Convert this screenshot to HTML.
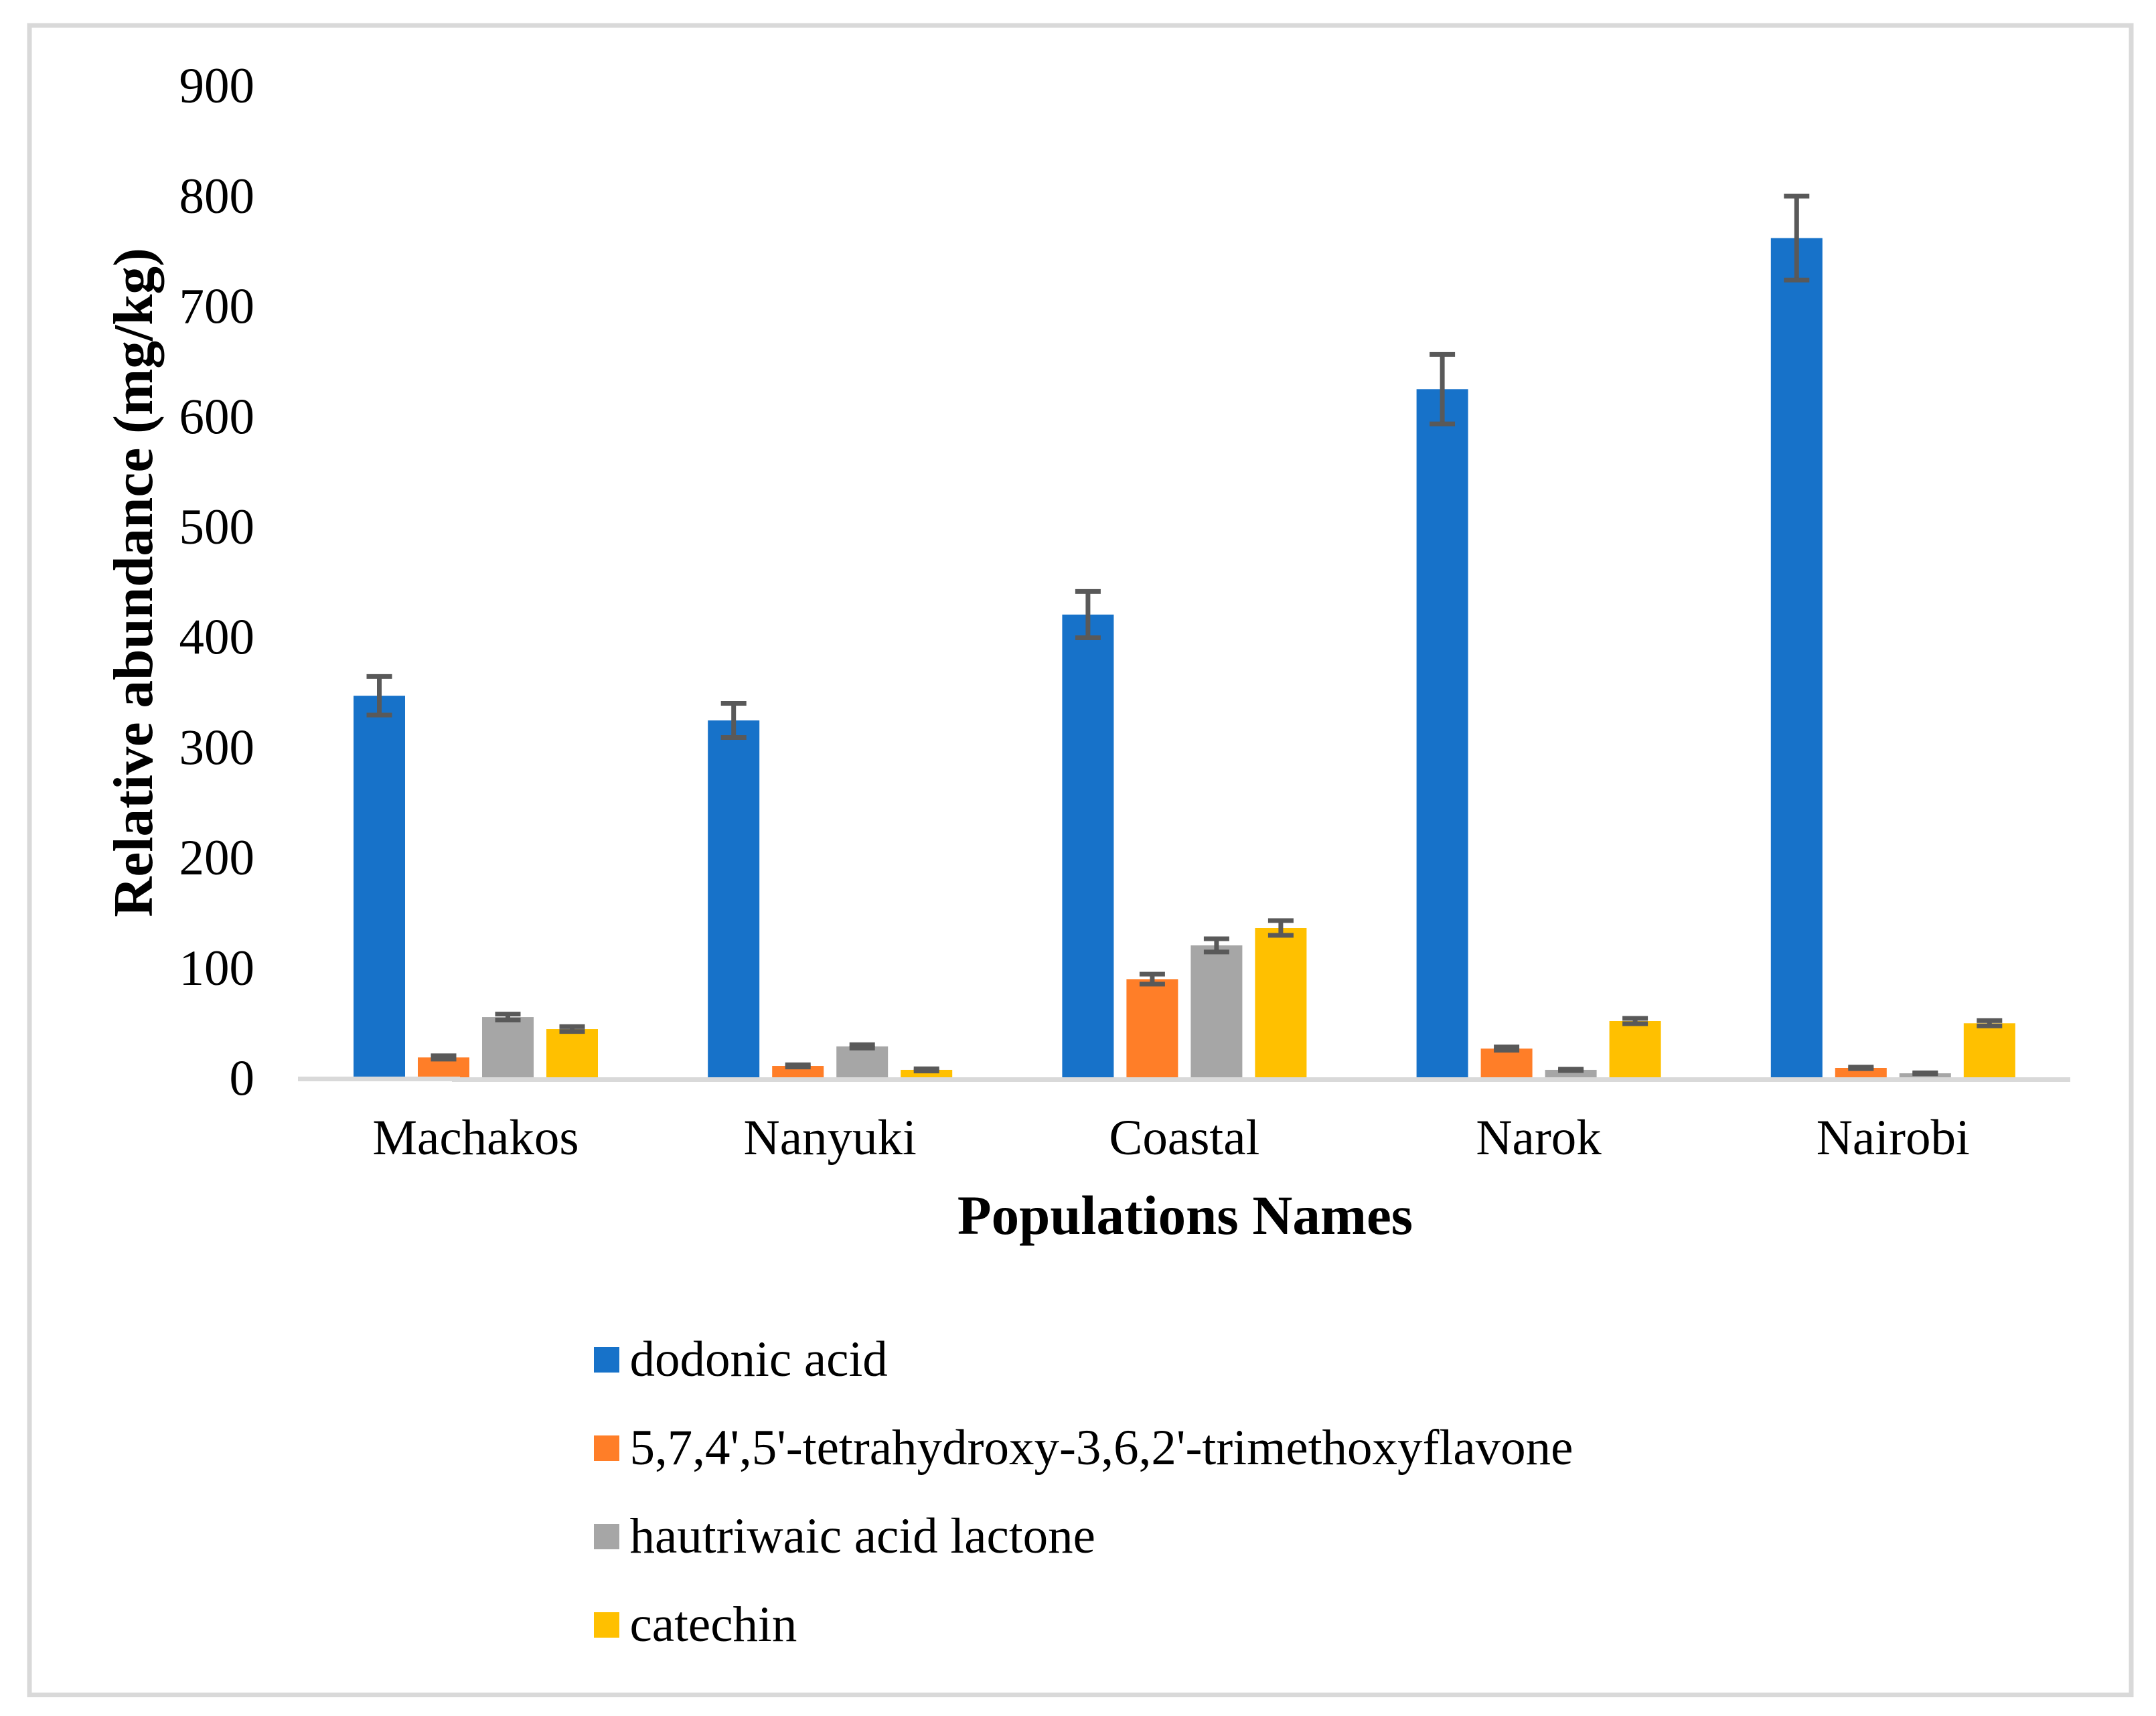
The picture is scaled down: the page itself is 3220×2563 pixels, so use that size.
<!DOCTYPE html>
<html>
<head>
<meta charset="utf-8">
<title>Relative abundance by population</title>
<style>
html,body{margin:0;padding:0;background:#fff;width:3220px;height:2563px;overflow:hidden}
svg{display:block}
text{font-family:"Liberation Serif",serif;fill:#000}
</style>
</head>
<body>
<svg id="chart" xmlns="http://www.w3.org/2000/svg" width="3220" height="2563" viewBox="0 0 3220 2563">
  <rect x="0" y="0" width="3220" height="2563" fill="#ffffff"/>
  <rect x="44" y="38" width="3139" height="2493.5" fill="none" stroke="#d9d9d9" stroke-width="7"/>
  <g id="bars"></g>
  <g id="errors"></g>
  <rect x="445" y="1608" width="242" height="7" fill="#d9d9d9"/>
  <rect x="675" y="1609" width="2417" height="7" fill="#d9d9d9"/>
  <g id="yticks"></g>
  <g id="xticks"></g>
  <text transform="translate(227,870) rotate(-90)" text-anchor="middle" font-size="83.3" font-weight="bold">Relative abundance (mg/kg)</text>
  <text x="1770" y="1843" text-anchor="middle" font-size="83" font-weight="bold">Populations Names</text>
  <g id="legend"></g>
</svg>
<script>
const categories = ["Machakos", "Nanyuki", "Coastal", "Narok", "Nairobi"];
const seriesNames = ["dodonic acid", "5,7,4',5'-tetrahydroxy-3,6,2'-trimethoxyflavone", "hautriwaic acid lactone", "catechin"];
const seriesColors = ["#1772c9", "#ff7e28", "#a6a6a6", "#ffc000"];
const dodonicAcid = [346, 323.6, 419.6, 624, 761];
const flavone = [18, 10.3, 89, 26, 8.5];
const hautriwaic = [54.6, 28, 119.6, 6.7, 3.6];
const catechin = [43.7, 6.7, 135.4, 51, 49];
const dodonicErr = [17.5, 15.5, 21, 31.5, 38];
const flavoneErr = [1.5, 1, 4.5, 1.5, 0.7];
const hautriwaicErr = [2.7, 1.5, 6, 0.6, 0.4];
const catechinErr = [2.2, 1, 6.7, 2.4, 2.4];
const yTickLabels = [0, 100, 200, 300, 400, 500, 600, 700, 800, 900];

const seriesValues = [dodonicAcid, flavone, hautriwaic, catechin];
const seriesErrors = [dodonicErr, flavoneErr, hautriwaicErr, catechinErr];
const NS = "http://www.w3.org/2000/svg";
const Y0 = 1609, Y_PER_UNIT = 1.647;
function yScale(v) { return Y0 - v * Y_PER_UNIT; }
const GROUP_START = 528, GROUP_PITCH = 529.2, BAR_PITCH = 96, BAR_W = 77;
function xBar(c, s) { return GROUP_START + c * GROUP_PITCH + s * BAR_PITCH; }
function xCenter(c) { return xBar(c, 0) + (3 * BAR_PITCH + BAR_W) / 2; }
function el(tag, attrs, parent) {
  const e = document.createElementNS(NS, tag);
  for (const k in attrs) e.setAttribute(k, attrs[k]);
  parent.appendChild(e);
  return e;
}
const barsG = document.getElementById("bars");
const errG = document.getElementById("errors");
const yG = document.getElementById("yticks");
const xG = document.getElementById("xticks");
const legG = document.getElementById("legend");

seriesValues.forEach(function (vals, s) {
  vals.forEach(function (v, c) {
    const top = yScale(v);
    const r = el("rect", { x: xBar(c, s), y: top, width: BAR_W, height: Y0 - top, fill: seriesColors[s] }, barsG);
    
    

    const e = seriesErrors[s][c];
    const cx = xBar(c, s) + BAR_W / 2;
    const hi = yScale(v + e), lo = yScale(v - e);
    const g = el("g", { stroke: "#595959", "stroke-width": 7, fill: "none" }, errG);
    
    
    el("line", { x1: cx, x2: cx, y1: hi, y2: lo }, g);
    el("line", { x1: cx - 19, x2: cx + 19, y1: hi, y2: hi }, g);
    el("line", { x1: cx - 19, x2: cx + 19, y1: lo, y2: lo }, g);
  });
});

yTickLabels.forEach(function (t) {
  const n = el("text", { x: 380, y: yScale(t) + 26.5, "text-anchor": "end", "font-size": 75 }, yG);
  
  
  n.textContent = t;
});

categories.forEach(function (name, c) {
  const n = el("text", { x: xCenter(c), y: 1724, "text-anchor": "middle", "font-size": 75 }, xG);
  
  
  n.textContent = name;
});

const LEG_TOP = 2012, LEG_PITCH = 132;
seriesNames.forEach(function (name, s) {
  const y = LEG_TOP + s * LEG_PITCH;
  const sw = el("rect", { x: 887, y: y, width: 38, height: 38, fill: seriesColors[s] }, legG);
  
  
  const t = el("text", { x: 940.5, y: y + 43, "font-size": 75 }, legG);
  
  
  t.textContent = name;
});
</script>
</body>
</html>
